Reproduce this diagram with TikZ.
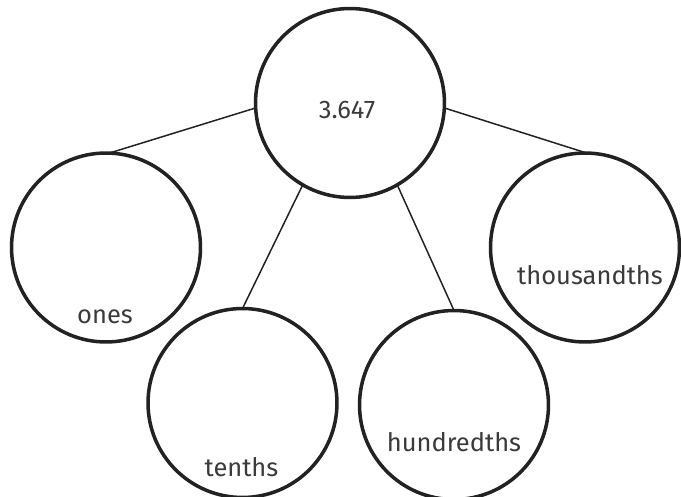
\documentclass[tikz,border=0pt]{standalone}
\usepackage{fontspec}
\setmainfont{Fira Sans}
\definecolor{ringcol}{HTML}{222222}
\definecolor{textcol}{HTML}{3A3A3A}
\begin{document}
\begin{tikzpicture}[x=0.02cm, y=-0.02cm,
  bubble/.style={draw=ringcol, line width=2pt, circle, minimum size=3.78cm, inner sep=0pt, outer sep=0pt},
  word/.style={text=textcol, font=\fontsize{14.5}{17}\selectfont},
  link/.style={draw=ringcol, line width=0.85pt}]
\useasboundingbox (0,0) rectangle (681,497);

\node[bubble] (whole) at (350,103) {};
\node[bubble] (ones) at (106,247.5) {};
\node[bubble] (tenths) at (242.5,403) {};
\node[bubble] (hundredths) at (454,405) {};
\node[bubble] (thousandths) at (585,247.5) {};

\node[word] (wholetext) at (347,110) {3.647};
\node[word] (onestext) at (105,317) {ones};
\node[word] (tenthstext) at (241.5,467) {tenths};
\node[word] (hundredthstext) at (454,442) {hundredths};
\node[word] (thousandthstext) at (590,275) {thousandths};

\draw[link] (whole.183) -- (ones.88);
\draw[link] (whole.-120) -- (tenths.north);
\draw[link] (whole.-60) -- (hundredths.north);
\draw[link] (whole.-3) -- (thousandths.89);
\end{tikzpicture}
\end{document}
